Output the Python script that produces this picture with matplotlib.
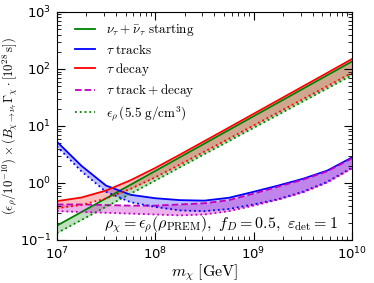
import numpy as np
from matplotlib import pyplot as plt

plt.rcParams['mathtext.fontset'] = 'cm'
plt.rcParams['font.family'] = 'DejaVu Sans'

# log10 of dark matter mass [GeV]
logm = [7.0, 7.25, 7.5, 7.75, 8.0, 8.25, 8.5, 8.75, 9.0, 9.25, 9.5, 9.75, 10.0]

# nu_tau + nubar_tau starting (PREM / 5.5 g/cm^3)
green_prem = [0.178, 0.309, 0.537, 0.933, 1.62, 2.82, 4.90, 8.51, 14.8, 25.7, 44.7, 77.6, 135]
green_const = [0.132, 0.224, 0.382, 0.649, 1.10, 1.88, 3.20, 5.43, 9.25, 15.7, 26.8, 45.5, 77.5]

# tau tracks
blue_prem = [5.3, 2.0, 0.90, 0.62, 0.54, 0.50, 0.49, 0.55, 0.70, 0.90, 1.18, 1.65, 2.8]
blue_const = [4.4, 1.6, 0.70, 0.46, 0.38, 0.33, 0.32, 0.35, 0.42, 0.52, 0.70, 1.05, 1.85]

# tau decay
red_prem = [0.48, 0.556, 0.736, 1.117, 1.83, 3.13, 5.41, 9.37, 16.3, 28.3, 49.2, 85.4, 149]
red_const = [0.36, 0.411, 0.534, 0.787, 1.254, 2.10, 3.54, 5.98, 10.2, 17.3, 29.5, 50.0, 85.3]

# tau track + decay
mag_prem = [0.42, 0.42, 0.41, 0.40, 0.40, 0.42, 0.44, 0.50, 0.65, 0.86, 1.14, 1.60, 2.7]
mag_const = [0.32, 0.31, 0.30, 0.29, 0.28, 0.27, 0.28, 0.32, 0.40, 0.51, 0.68, 1.02, 1.8]

m = 10.0 ** np.array(logm)

fig = plt.figure(figsize=(3.74, 2.83), dpi=100)
ax = fig.add_axes([0.152, 0.152, 0.789, 0.806])

ax.fill_between(m, green_const, green_prem, color='g', alpha=0.25, lw=0)
ax.fill_between(m, blue_const, blue_prem, color='b', alpha=0.25, lw=0)
ax.fill_between(m, red_const, red_prem, color='r', alpha=0.25, lw=0)
ax.fill_between(m, mag_const, mag_prem, color='m', alpha=0.3, lw=0)

lw = 1.3
ax.plot(m, green_prem, 'g-', lw=lw, label=r'$\nu_\tau+\bar\nu_\tau\ \mathrm{starting}$')
ax.plot(m, blue_prem, 'b-', lw=lw, label=r'$\tau\ \mathrm{tracks}$')
ax.plot(m, red_prem, 'r-', lw=lw, label=r'$\tau\ \mathrm{decay}$')
ax.plot(m, mag_prem, 'm--', lw=lw, label=r'$\tau\ \mathrm{track+decay}$')
ax.plot(m, green_const, 'g:', lw=lw, label=r'$\epsilon_\rho\,(5.5\ \mathrm{g/cm^3})$')
ax.plot(m, blue_const, 'b:', lw=lw)
ax.plot(m, red_const, 'r:', lw=lw)
ax.plot(m, mag_const, 'm:', lw=lw)

ax.set_xscale('log')
ax.set_yscale('log')
ax.set_xlim(1e7, 1e10)
ax.set_ylim(1e-1, 1e3)

ax.tick_params(which='both', direction='in', top=True, right=True, labelsize=9.5)
ax.tick_params(which='major', length=6, pad=4)
ax.tick_params(which='minor', length=3)

ax.set_xlabel(r'$m_\chi\ [\mathrm{GeV}]$', fontsize=11.5, labelpad=0)
ax.set_ylabel(r'$(\epsilon_\rho/10^{-10})\times(B_{\chi\to\nu_\tau}\Gamma_\chi\cdot[10^{28}\,\mathrm{s}])$',
              fontsize=9.2, labelpad=1)
ax.yaxis.set_label_coords(-0.125, 0.5)

ax.text(0.952, 0.02, r'$\rho_\chi=\epsilon_\rho(\rho_{\rm PREM}),\ f_D=0.5,\ \varepsilon_{\rm det}=1$',
        transform=ax.transAxes, ha='right', va='bottom', fontsize=11.5)

ax.legend(loc='upper left', bbox_to_anchor=(0.03, 0.995), frameon=False, fontsize=9.5,
          handlelength=1.5, labelspacing=0.33, borderaxespad=0.3, handletextpad=0.85)

fig.savefig('out.png', dpi=100)
